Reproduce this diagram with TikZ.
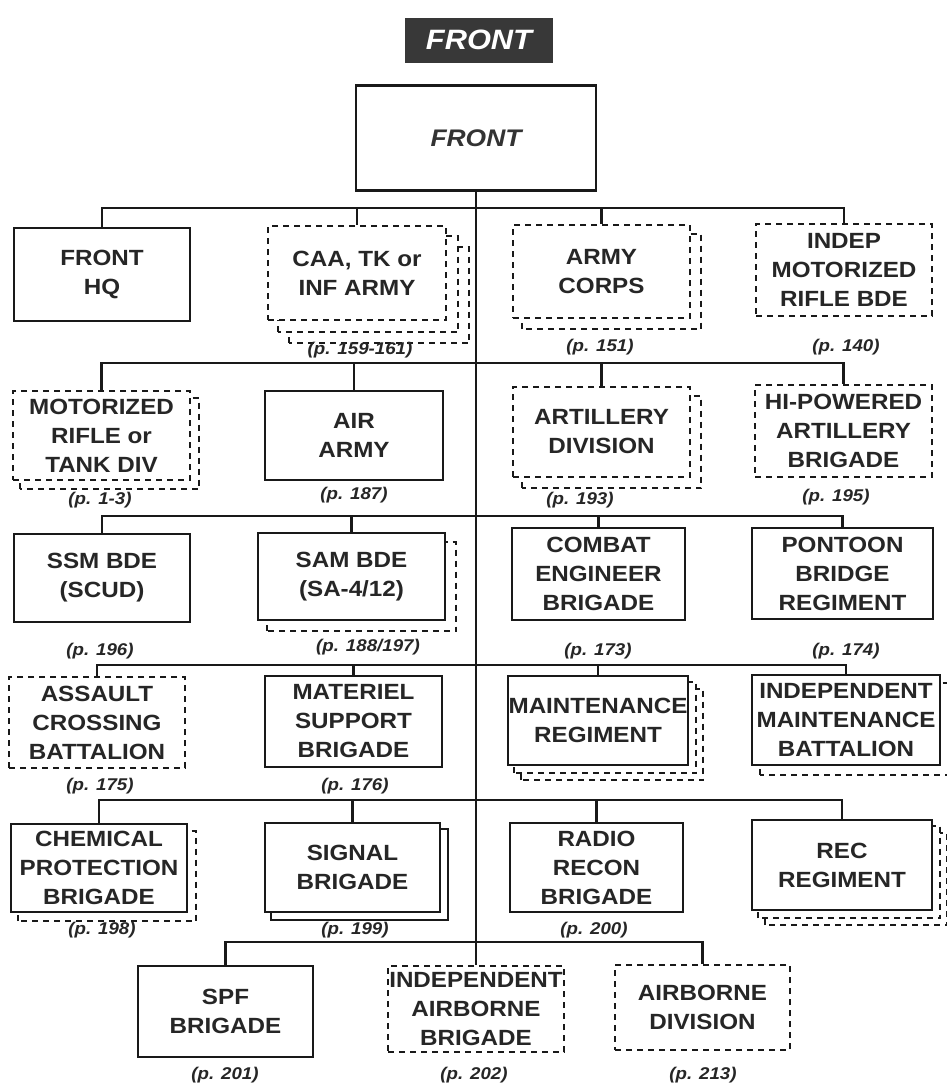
\documentclass[tikz,border=0pt]{standalone}
\usepackage{fontspec}
\newfontfamily\diafont[FakeStretch=1.1]{Liberation Sans}
\pgfdeclarelayer{back}
\pgfdeclarelayer{bg}
\pgfsetlayers{back,bg,main}
\tikzset{
  box/.style={draw=black!90, line width=2.2pt, fill=white, inner sep=0pt, align=center,
    text=black!85, font=\diafont\bfseries\fontsize{22}{29}\selectfont},
  dbox/.style={box, dash pattern=on 6pt off 5pt},
  wh/.style 2 args={minimum width=#1pt, minimum height=#2pt},
  shd/.style={draw=black!90, line width=2pt, fill=white, dash pattern=on 6pt off 5pt},
  shs/.style={draw=black!90, line width=1.5pt, fill=white},
  lab/.style={text=black!85, inner sep=0pt, font=\diafont\bfseries\itshape\fontsize{17}{20}\selectfont},
  conn/.style={draw=black!90, line width=2.2pt},
  ttl/.style={fill=black!78, text=white, inner sep=0pt, minimum width=148pt, minimum height=45pt,
    font=\diafont\bfseries\itshape\fontsize{28}{32}\selectfont},
}
\begin{document}
\begin{tikzpicture}[x=1pt,y=-1pt]
\begin{pgfonlayer}{back}
\fill[white] (0,0) rectangle (946,1084);
\end{pgfonlayer}
\useasboundingbox (0,0) rectangle (946,1084);

% title and top
\node[ttl] (title) at (479,40) {FRONT};
\node[box, wh={240}{105}, font=\diafont\bfseries\itshape\fontsize{24}{28}\selectfont, text=black!80] (front) at (476,138) {FRONT};

% row 1
\node[box, wh={176}{93}] (hq) at (102,274.5) {FRONT\\HQ};
\node[dbox, wh={178}{94}] (caa) at (357,273) {CAA, TK or\\INF ARMY};
\node[dbox, wh={177}{93}] (corps) at (601.5,271.5) {ARMY\\CORPS};
\node[dbox, wh={176}{92}] (imr) at (844,270) {INDEP\\MOTORIZED\\RIFLE BDE};
% row 2
\node[dbox, wh={177}{89}] (mrd) at (101.5,435.5) {MOTORIZED\\RIFLE or\\TANK DIV};
\node[box, wh={178}{89}] (air) at (354,435.5) {AIR\\ARMY};
\node[dbox, wh={177}{90}] (artd) at (601.5,432) {ARTILLERY\\DIVISION};
\node[dbox, wh={177}{92}] (hpa) at (843.5,431) {HI-POWERED\\ARTILLERY\\BRIGADE};
% row 3
\node[box, wh={176}{88}] (ssm) at (102,578) {SSM BDE\\(SCUD)};
\node[box, wh={187}{87}] (sam) at (351.5,576.5) {SAM BDE\\(SA-4/12)};
\node[box, wh={173}{92}] (ceb) at (598.5,574) {COMBAT\\ENGINEER\\BRIGADE};
\node[box, wh={181}{91}] (pbr) at (842.5,573.5) {PONTOON\\BRIDGE\\REGIMENT};
% row 4
\node[dbox, wh={176}{91}] (acb) at (97,722.5) {ASSAULT\\CROSSING\\BATTALION};
\node[box, wh={177}{91}] (msb) at (353.5,721.5) {MATERIEL\\SUPPORT\\BRIGADE};
\node[box, wh={180}{89}] (mr) at (598,720.5) {MAINTENANCE\\REGIMENT};
\node[box, wh={188}{90}] (imb) at (846,720) {INDEPENDENT\\MAINTENANCE\\BATTALION};
% row 5
\node[box, wh={176}{88}] (cpb) at (99,868) {CHEMICAL\\PROTECTION\\BRIGADE};
\node[box, wh={175}{89}] (sig) at (352.5,867.5) {SIGNAL\\BRIGADE};
\node[box, wh={173}{89}] (rrb) at (596.5,867.5) {RADIO\\RECON\\BRIGADE};
\node[box, wh={180}{90}] (rec) at (842,865) {REC\\REGIMENT};
% row 6
\node[box, wh={175}{91}] (spf) at (225.5,1011.5) {SPF\\BRIGADE};
\node[dbox, wh={176}{86}] (iab) at (476,1009) {INDEPENDENT\\AIRBORNE\\BRIGADE};
\node[dbox, wh={175}{85}] (abd) at (702.5,1007.5) {AIRBORNE\\DIVISION};

% shadows
\begin{pgfonlayer}{bg}
\draw[shd] ([shift={(22,22)}]caa.south west) rectangle ([shift={(22,22)}]caa.north east);
\draw[shd] ([shift={(11,11)}]caa.south west) rectangle ([shift={(11,11)}]caa.north east);
\draw[shd] ([shift={(10,10)}]corps.south west) rectangle ([shift={(10,10)}]corps.north east);
\draw[shd] ([shift={(8,8)}]mrd.south west) rectangle ([shift={(8,8)}]mrd.north east);
\draw[shd] ([shift={(10,10)}]artd.south west) rectangle ([shift={(10,10)}]artd.north east);
\draw[shd] ([shift={(10,10)}]sam.south west) rectangle ([shift={(10,10)}]sam.north east);
\draw[shd] ([shift={(14,14)}]mr.south west) rectangle ([shift={(14,14)}]mr.north east);
\draw[shd] ([shift={(7,7)}]mr.south west) rectangle ([shift={(7,7)}]mr.north east);
\draw[shd] ([shift={(9,9)}]imb.south west) rectangle ([shift={(9,9)}]imb.north east);
\draw[shd] ([shift={(8,8)}]cpb.south west) rectangle ([shift={(8,8)}]cpb.north east);
\draw[shs] ([shift={(7,7)}]sig.south west) rectangle ([shift={(7,7)}]sig.north east);
\draw[shd] ([shift={(14,14)}]rec.south west) rectangle ([shift={(14,14)}]rec.north east);
\draw[shd] ([shift={(7,7)}]rec.south west) rectangle ([shift={(7,7)}]rec.north east);
\end{pgfonlayer}

% bus coordinates on the trunk
\coordinate (t1) at (476,208);
\coordinate (t2) at (476,363);
\coordinate (t3) at (476,516);
\coordinate (t4) at (476,665);
\coordinate (t5) at (476,800);
\coordinate (t6) at (476,942);

% connectors
\draw[conn] (front.south) -- (iab.north);
\draw[conn] (hq.north) |- (t1) -| (imr.north);
\draw[conn] (caa.north) -- (caa.north |- t1);
\draw[conn] (corps.north) -- (corps.north |- t1);
\draw[conn] (mrd.north) |- (t2) -| (hpa.north);
\draw[conn] (air.north) -- (air.north |- t2);
\draw[conn] (artd.north) -- (artd.north |- t2);
\draw[conn] (ssm.north) |- (t3) -| (pbr.north);
\draw[conn] (sam.north) -- (sam.north |- t3);
\draw[conn] (ceb.north) -- (ceb.north |- t3);
\draw[conn] (acb.north) |- (t4) -| (imb.north);
\draw[conn] (msb.north) -- (msb.north |- t4);
\draw[conn] (mr.north) -- (mr.north |- t4);
\draw[conn] (cpb.north) |- (t5) -| (rec.north);
\draw[conn] (sig.north) -- (sig.north |- t5);
\draw[conn] (rrb.north) -- (rrb.north |- t5);
\draw[conn] (spf.north) |- (t6) -| (abd.north);

% page labels
\node[lab] (lcaa) at (360,350) {(p. 159-161)};
\node[lab] (lcorps) at (600,347) {(p. 151)};
\node[lab] (limr) at (846,347) {(p. 140)};
\node[lab] (lmrd) at (100,500) {(p. 1-3)};
\node[lab] (lair) at (354,495) {(p. 187)};
\node[lab] (lartd) at (580,500) {(p. 193)};
\node[lab] (lhpa) at (836,497) {(p. 195)};
\node[lab] (lssm) at (100,651) {(p. 196)};
\node[lab] (lsam) at (368,647) {(p. 188/197)};
\node[lab] (lceb) at (598,651) {(p. 173)};
\node[lab] (lpbr) at (846,651) {(p. 174)};
\node[lab] (lacb) at (100,786) {(p. 175)};
\node[lab] (lmsb) at (355,786) {(p. 176)};
\node[lab] (lcpb) at (102,930) {(p. 198)};
\node[lab] (lsig) at (355,930) {(p. 199)};
\node[lab] (lrrb) at (594,930) {(p. 200)};
\node[lab] (lspf) at (225,1075) {(p. 201)};
\node[lab] (liab) at (474,1075) {(p. 202)};
\node[lab] (labd) at (703,1075) {(p. 213)};
\end{tikzpicture}
\end{document}
